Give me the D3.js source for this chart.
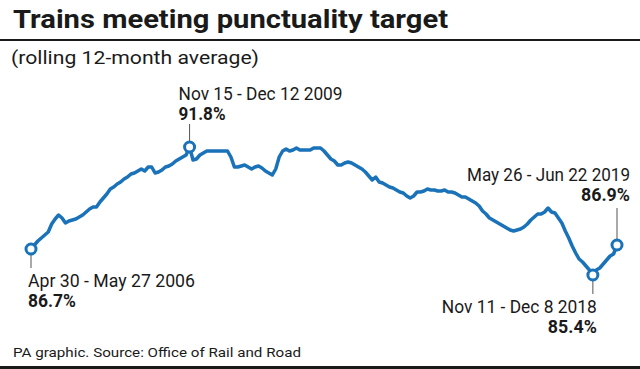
<!DOCTYPE html>
<html><head><meta charset="utf-8">
<script src="https://cdn.jsdelivr.net/npm/d3@7"></script>
<style>html,body{margin:0;padding:0;background:#fff}svg{display:block}</style>
</head><body>
<script>
// ---- data ----
const titleText = "Trains meeting punctuality target";
const subtitleText = "(rolling 12-month average)";
const sourceText = "PA graphic. Source: Office of Rail and Road";

// 4-weekly rail periods, Apr 30 - May 27 2006 ... May 26 - Jun 22 2019 (171 periods)
const periodIndex = d3.range(171);
const punctuality = [
  86.7, 86.9, 87.1, 87.25, 87.4, 87.55, 87.95, 88.2, 88.4, 88.25,
  88.0, 88.1, 88.15, 88.2, 88.3, 88.4, 88.55, 88.7, 88.8, 88.8,
  89.05, 89.25, 89.45, 89.7, 89.8, 89.95, 90.05, 90.2, 90.3, 90.45,
  90.5, 90.6, 90.7, 90.6, 90.8, 90.8, 90.5, 90.55, 90.65, 90.8,
  90.85, 90.95, 91.1, 91.2, 91.3, 91.4, 91.8, 91.15, 91.2, 91.4,
  91.5, 91.6, 91.6, 91.6, 91.6, 91.6, 91.6, 91.6, 91.3, 90.8,
  90.8, 90.85, 90.9, 90.8, 90.7, 90.8, 90.85, 90.75, 90.6, 90.5,
  90.4, 90.7, 91.3, 91.6, 91.7, 91.6, 91.65, 91.75, 91.65, 91.65,
  91.65, 91.65, 91.75, 91.75, 91.75, 91.6, 91.4, 91.2, 91.1, 90.9,
  90.9, 91.0, 91.05, 91.0, 90.9, 90.8, 90.7, 90.55, 90.35, 90.15,
  90.3, 90.05, 90.0, 89.9, 89.8, 89.75, 89.65, 89.55, 89.5, 89.35,
  89.25, 89.35, 89.55, 89.55, 89.6, 89.7, 89.65, 89.65, 89.6, 89.6,
  89.65, 89.55, 89.55, 89.5, 89.4, 89.3, 89.3, 89.2, 89.1, 89.0,
  88.85, 88.6, 88.45, 88.25, 88.15, 88.05, 87.95, 87.85, 87.75, 87.65,
  87.6, 87.65, 87.7, 87.8, 87.95, 88.15, 88.3, 88.45, 88.45, 88.55,
  88.75, 88.55, 88.5, 88.25, 88.0, 87.6, 87.25, 86.85, 86.5, 86.2,
  86.05, 85.85, 85.65, 85.4, 85.65, 85.75, 85.95, 86.15, 86.35, 86.45,
  86.9
];

const annotIndex  = [0, 46, 163, 170];
const annotPeriod = ["Apr 30 - May 27 2006", "Nov 15 - Dec 12 2009", "Nov 11 - Dec 8 2018", "May 26 - Jun 22 2019"];
const annotValue  = ["86.7%", "91.8%", "85.4%", "86.9%"];

// ---- layout ----
const W = 640, H = 369;
const FONT = "Roboto, 'Noto Sans', sans-serif";
const ink = "#1a1a1a";
const blue = "#1a72b8";

const svg = d3.select("body").append("svg").attr("width", W).attr("height", H);

svg.append("text").attr("x", 13).attr("y", 28)
  .attr("font-family", FONT).attr("font-weight", 700).attr("font-size", 26.5)
  .attr("fill", ink).attr("textLength", 435).attr("lengthAdjust", "spacingAndGlyphs")
  .text(titleText);
svg.append("rect").attr("x", 0).attr("y", 39).attr("width", W).attr("height", 2).attr("fill", ink);
svg.append("text").attr("x", 11).attr("y", 64)
  .attr("font-family", FONT).attr("font-size", 18).attr("fill", ink)
  .attr("textLength", 248).attr("lengthAdjust", "spacingAndGlyphs")
  .text(subtitleText);
svg.append("text").attr("x", 13).attr("y", 357)
  .attr("font-family", FONT).attr("font-size", 13.5).attr("fill", ink)
  .attr("textLength", 288).attr("lengthAdjust", "spacingAndGlyphs")
  .text(sourceText);
svg.append("rect").attr("x", 0).attr("y", 366).attr("width", W).attr("height", 3).attr("fill", ink);

const x = d3.scaleLinear().domain([0, 170]).range([31, 617]);
const y = d3.scaleLinear().domain([85.4, 91.8]).range([275, 147]);

// leader lines + labels
const placement = [
  {dir: 1,  anchor: "start", dx: -3, lineEnd: 268, t1: 287, t2: 307, w1: 167, w2: 48},
  {dir: -1, anchor: "start", dx: -11, lineEnd: 124, t1: 100, t2: 120, w1: 164, w2: 47},
  {dir: 1,  anchor: "end",   dx: 4,  lineEnd: 294, t1: 313, t2: 333, w1: 155, w2: 49},
  {dir: -1, anchor: "end",   dx: 13, lineEnd: 208, t1: 181, t2: 201, w1: 163, w2: 49}
];

const g = svg.append("g");
annotIndex.forEach((idx, k) => {
  const p = placement[k];
  const px = x(periodIndex[idx]), py = y(punctuality[idx]);
  g.append("line").attr("x1", px).attr("x2", px)
    .attr("y1", py + p.dir * 6).attr("y2", p.lineEnd)
    .attr("stroke", "#555").attr("stroke-width", 1);
  g.append("text").attr("x", px + p.dx).attr("y", p.t1).attr("text-anchor", p.anchor)
    .attr("font-family", FONT).attr("font-size", 17.5).attr("fill", ink)
    .attr("textLength", p.w1).attr("lengthAdjust", "spacingAndGlyphs")
    .text(annotPeriod[k]);
  g.append("text").attr("x", px + p.dx).attr("y", p.t2).attr("text-anchor", p.anchor)
    .attr("font-family", FONT).attr("font-weight", 700).attr("font-size", 17.5).attr("fill", ink)
    .attr("textLength", p.w2).attr("lengthAdjust", "spacingAndGlyphs")
    .text(annotValue[k]);
});

const line = d3.line().x(i => x(i)).y(i => y(punctuality[i]));
svg.append("path").datum(periodIndex).attr("d", line)
  .attr("fill", "none").attr("stroke", blue).attr("stroke-width", 3.5)
  .attr("stroke-linejoin", "round").attr("stroke-linecap", "round");

svg.selectAll("circle.mark").data(annotIndex).join("circle").attr("class", "mark")
  .attr("cx", i => x(i)).attr("cy", i => y(punctuality[i])).attr("r", 5)
  .attr("fill", "#fff").attr("stroke", blue).attr("stroke-width", 3);
</script>
</body></html>
